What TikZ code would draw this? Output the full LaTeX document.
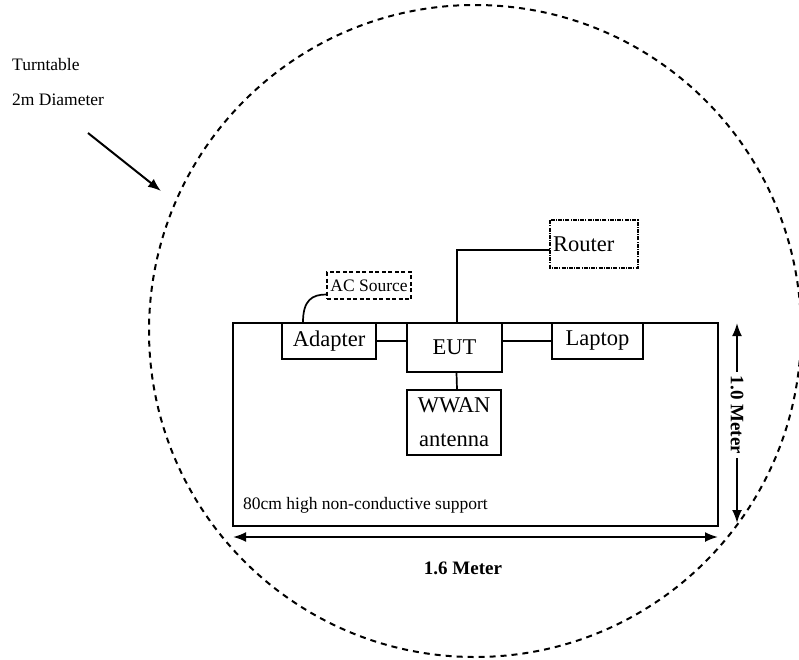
\documentclass[tikz,border=0pt]{standalone}
\usepackage{fontspec}
\setmainfont{Liberation Serif}
\usetikzlibrary{arrows.meta}
\begin{document}
\begin{tikzpicture}[x=1pt,y=-1pt,
  box/.style={draw,line width=1.7pt,inner sep=0pt,font=\fontsize{22.5}{34}\selectfont,align=center},
  small/.style={inner sep=0pt,font=\fontsize{17.5}{20}\selectfont},
  dim/.style={line width=2pt,{Latex[length=13pt,width=10pt]}-{Latex[length=13pt,width=10pt]}},
  wire/.style={line width=1.7pt}]
\useasboundingbox (0,0) rectangle (799,659);
% turntable
\draw[line width=2pt,dash pattern=on 6pt off 5pt] (475,331) circle (326pt);
\node[small,anchor=west] (tt1) at (12,65) {Turntable};
\node[small,anchor=west] (tt2) at (12,100) {2m Diameter};
\coordinate (t1) at (88,133);
\coordinate (t2) at (161,191);
\draw[line width=2pt,-{Latex[length=13pt,width=10pt]}] (t1) -- (t2);
% support table
\node[draw,line width=2pt,minimum width=485pt,minimum height=203pt,inner sep=0pt] (table) at (475.5,424.5) {};
\node[small,anchor=west] (sup) at (243,505) {80cm high non-conductive support};
% boxes
\node[box,minimum width=94pt,minimum height=36pt] (adapter) at (329,341) {\raisebox{-2pt}{Adapter}};
\node[box,minimum width=95pt,minimum height=49pt,fill=white] (eut) at (454.5,347.5) {\raisebox{-3pt}{EUT}};
\node[box,minimum width=91pt,minimum height=36pt] (laptop) at (597.5,341) {\raisebox{-2pt}{Laptop}};
\node[box,minimum width=94pt,minimum height=65pt] (wwan) at (454,422.5) {WWAN\\antenna};
\node[box,draw=none,minimum width=86pt,minimum height=46pt,text width=82pt,align=left] (router) at (594,244) {Router};
\draw[line width=1.5pt,dash pattern=on 4pt off 1.2pt on 1pt off 1.2pt] (router.north west) rectangle (router.south east);
\node[small,draw,line width=1.7pt,dash pattern=on 4pt off 2.5pt,minimum width=84pt,minimum height=27pt] (acsrc) at (369,285.5) {AC Source};
% connectors
\draw[wire] (adapter.east) -- (adapter.east -| eut.west);
\draw[wire] (laptop.west) -- (laptop.west -| eut.east);
\draw[wire] ([xshift=2pt]eut.south) -- ([xshift=3pt]wwan.north);
\draw[wire] ([xshift=2.5pt]eut.north) |- ([yshift=-6pt]router.west);
\draw[wire] ([xshift=-26pt]adapter.north) .. controls +(0,-22) and +(-14,0) .. ([yshift=-9pt]acsrc.west);
% dimensions
\coordinate (h1) at (233,537);
\coordinate (h2) at (718,537);
\draw[dim] (h1) -- (h2);
\node[inner sep=0pt,font=\bfseries\fontsize{19}{22}\selectfont] (hl) at (463,568) {1.6 Meter};
\coordinate (v1) at (737,323);
\coordinate (v2) at (737,523);
\draw[dim] (v1) -- (v2);
\node[fill=white,inner sep=4pt,rotate=-90,font=\bfseries\fontsize{19}{22}\selectfont] (vl) at (737,415) {1.0 Meter};
\end{tikzpicture}
\end{document}
